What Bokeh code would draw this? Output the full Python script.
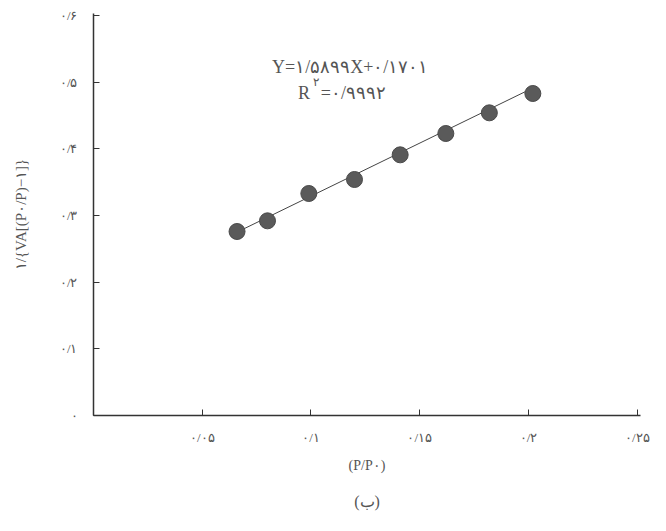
from bokeh.plotting import figure
from bokeh.models import Range1d, FixedTicker, Title
from bokeh.embed import file_html
from bokeh.resources import INLINE
from bokeh.core.properties import value

# Data
p_ratio = [0.066, 0.080, 0.099, 0.120, 0.141, 0.162, 0.182, 0.202]
bet_y = [0.276, 0.292, 0.333, 0.354, 0.391, 0.423, 0.454, 0.483]
slope = 1.5899
intercept = 0.1701

x_ticks = [0, 0.05, 0.1, 0.15, 0.2, 0.25]
x_tick_labels = ["", "۰/۰۵", "۰/۱", "۰/۱۵", "۰/۲", "۰/۲۵"]
y_ticks = [0, 0.1, 0.2, 0.3, 0.4, 0.5, 0.6]
y_tick_labels = ["۰", "۰/۱", "۰/۲", "۰/۳", "۰/۴", "۰/۵", "۰/۶"]

eq_text = "Y=۱/۵۸۹۹X+۰/۱۷۰۱"
r2_symbol = "R"
r2_power = "۲"
r2_value = "=۰/۹۹۹۲"
x_label = "(P/P۰)"
y_label = "۱/{VA[(P۰/P)−۱]}"
caption = "(ب)"

FONT = "Liberation Serif"
INK = "#555555"

p = figure(width=666, height=531, output_backend="svg", toolbar_location=None,
           x_range=Range1d(0, 0.2515), y_range=Range1d(0, 0.603),
           min_border_left=93, min_border_right=26, min_border_top=13,
           min_border_bottom=116)
p.outline_line_color = None
p.xgrid.visible = False
p.ygrid.visible = False
p.background_fill_color = "white"
p.border_fill_color = "white"

for ax in (p.xaxis[0], p.yaxis[0]):
    ax.axis_line_color = "#333333"
    ax.axis_line_width = 1.5
    ax.major_tick_line_color = "#333333"
    ax.major_tick_in = 6
    ax.major_tick_out = 0
    ax.minor_tick_line_color = None
    ax.major_label_text_font = FONT
    ax.major_label_text_color = INK
    ax.major_label_text_font_size = "13px"
    ax.axis_label_text_font = FONT
    ax.axis_label_text_color = INK
    ax.axis_label_text_font_style = "normal"

p.xaxis[0].ticker = FixedTicker(ticks=x_ticks)
p.xaxis[0].major_label_overrides = {t: l for t, l in zip(x_ticks, x_tick_labels)}
p.xaxis[0].major_label_standoff = 14
p.xaxis[0].axis_label = x_label
p.xaxis[0].axis_label_text_font_size = "14px"
p.xaxis[0].axis_label_standoff = 10

p.yaxis[0].ticker = FixedTicker(ticks=y_ticks)
p.yaxis[0].major_label_overrides = {t: l for t, l in zip(y_ticks, y_tick_labels)}
p.yaxis[0].major_label_standoff = 16
p.yaxis[0].axis_label = y_label
p.yaxis[0].axis_label_text_font_size = "15px"
p.yaxis[0].axis_label_standoff = 28

fit_x = [min(p_ratio), max(p_ratio)]
fit_y = [slope * v + intercept for v in fit_x]
p.line(fit_x, fit_y, line_color="#444444", line_width=1)
p.scatter(p_ratio, bet_y, size=16, fill_color="#5a5a5a", line_color="#4a4a4a")

p.text(x=[0.118], y=[0.523], text=[eq_text], text_font=value(FONT),
       text_font_size="18px", text_color=INK, text_align="center", text_baseline="middle")
p.text(x=[0.0995], y=[0.484], text=[r2_symbol], text_font=value(FONT),
       text_font_size="18px", text_color=INK, text_align="right", text_baseline="middle")
p.text(x=[0.1025], y=[0.501], text=[r2_power], text_font=value(FONT),
       text_font_size="12px", text_color=INK, text_align="center", text_baseline="middle")
p.text(x=[0.1045], y=[0.484], text=[r2_value], text_font=value(FONT),
       text_font_size="18px", text_color=INK, text_align="left", text_baseline="middle")

p.add_layout(Title(text=caption, align="center", text_font=FONT, text_font_size="16px",
                   text_color=INK, text_font_style="normal", standoff=30), "below")

open("out.html", "w").write(file_html(p, INLINE))
